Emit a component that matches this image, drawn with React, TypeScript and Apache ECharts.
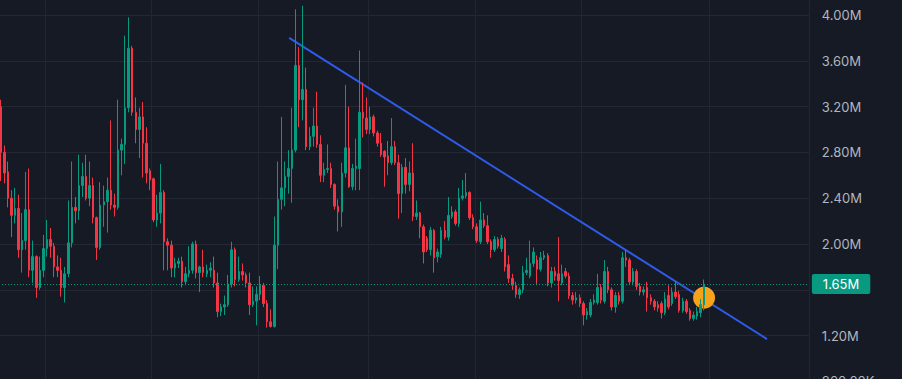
import React, { useEffect, useRef } from "react";
import * as echarts from "echarts";

// Each candle: [open, close, low, high] in millions
type Candle = [number, number, number, number];

const waveA: Candle[] = [
  [3.2, 2.8, 2.55, 3.26], [2.8, 2.62, 2.53, 2.86], [2.63, 2.4, 2.32, 2.72], [2.4, 2.25, 2.06, 2.47],
  [2.25, 2.31, 2.18, 2.49], [2.31, 1.95, 1.88, 2.43], [1.95, 2.03, 1.75, 2.27], [2.03, 2.3, 1.95, 2.63],
  [2.3, 1.77, 1.71, 2.66], [1.77, 1.89, 1.66, 2.03], [1.89, 1.62, 1.53, 1.9], [1.62, 1.77, 1.6, 1.89],
  [1.77, 1.96, 1.71, 2.08], [1.96, 2.04, 1.89, 2.21], [2.04, 1.98, 1.88, 2.14], [1.98, 1.8, 1.71, 2.01],
  [1.8, 1.77, 1.71, 1.9], [1.77, 1.62, 1.54, 1.88], [1.62, 1.74, 1.49, 1.8], [1.74, 2.01, 1.71, 2.38],
  [2.01, 2.32, 1.97, 2.72], [2.32, 2.29, 2.18, 2.41], [2.29, 2.51, 2.21, 2.78], [2.51, 2.59, 2.41, 2.71],
  [2.59, 2.4, 2.38, 2.78], [2.4, 2.51, 2.33, 2.72], [2.51, 2.23, 2.18, 2.58], [2.23, 1.97, 1.86, 2.24],
  [1.97, 2.34, 1.95, 2.54], [2.34, 2.37, 2.15, 2.51], [2.37, 2.47, 2.1, 2.58], [2.47, 2.34, 2.3, 3.08],
  [2.34, 2.32, 2.24, 2.44], [2.32, 2.82, 2.3, 3.26],
];

const waveB: Candle[] = [
  [2.82, 2.87, 2.6, 2.92], [2.87, 3.19, 2.7, 3.82], [3.19, 3.71, 3.15, 3.98], [3.71, 3.15, 3.12, 3.73],
  [3.15, 3.0, 2.88, 3.28], [3.0, 3.11, 2.75, 3.19], [3.11, 2.88, 2.58, 3.24], [2.88, 2.62, 2.53, 3.02],
  [2.64, 2.56, 2.47, 2.66], [2.57, 2.21, 2.19, 2.58], [2.21, 2.27, 2.15, 2.43], [2.27, 2.45, 2.18, 2.7],
  [2.45, 2.02, 1.77, 2.47], [2.02, 1.99, 1.77, 2.05], [1.99, 1.79, 1.71, 2.03], [1.79, 1.83, 1.71, 1.88],
  [1.83, 1.85, 1.79, 1.88], [1.85, 1.67, 1.62, 1.89], [1.67, 1.74, 1.64, 1.8], [1.74, 1.77, 1.71, 1.98],
  [1.77, 2.0, 1.74, 2.02], [2.0, 1.75, 1.7, 2.03], [1.75, 1.8, 1.58, 1.81], [1.8, 1.75, 1.71, 1.95],
  [1.74, 1.77, 1.71, 1.82], [1.77, 1.79, 1.71, 1.84], [1.77, 1.66, 1.62, 1.89], [1.66, 1.41, 1.36, 1.75],
  [1.41, 1.45, 1.37, 1.48], [1.45, 1.47, 1.38, 1.55], [1.47, 1.65, 1.45, 1.73], [1.65, 1.95, 1.62, 2.02],
  [1.95, 1.69, 1.63, 1.97], [1.69, 1.76, 1.67, 1.89], [1.76, 1.73, 1.68, 1.83], [1.73, 1.66, 1.62, 1.75],
  [1.66, 1.47, 1.38, 1.75], [1.47, 1.5, 1.45, 1.63], [1.5, 1.56, 1.29, 1.63], [1.56, 1.64, 1.51, 1.72],
  [1.64, 1.48, 1.45, 1.66], [1.48, 1.32, 1.27, 1.51], [1.32, 1.28, 1.27, 1.43],
];

const waveC: Candle[] = [
  [1.28, 1.99, 1.27, 2.24], [1.99, 2.39, 1.78, 2.72], [2.39, 2.49, 2.3, 3.11], [2.49, 2.59, 2.33, 2.72],
  [2.59, 2.66, 2.44, 2.82], [2.66, 2.82, 2.36, 3.19], [2.82, 3.56, 2.8, 4.05], [3.56, 3.26, 3.02, 3.72],
  [3.26, 3.35, 3.08, 4.08], [3.35, 2.85, 2.82, 3.54], [2.85, 2.94, 2.82, 3.02], [2.94, 3.03, 2.85, 3.19],
  [3.03, 2.87, 2.84, 3.33], [2.87, 2.6, 2.54, 2.95], [2.6, 2.65, 2.54, 2.71], [2.65, 2.66, 2.62, 2.87],
  [2.66, 2.52, 2.49, 2.71], [2.52, 2.33, 2.3, 2.53], [2.33, 2.28, 2.11, 2.39], [2.28, 2.62, 2.15, 2.71],
  [2.62, 2.84, 2.58, 3.39], [2.84, 2.5, 2.49, 3.2], [2.5, 2.66, 2.47, 2.7], [2.66, 2.68, 2.47, 2.92],
  [2.66, 3.15, 2.47, 3.69], [3.15, 3.1, 2.93, 3.41], [3.1, 3.0, 2.96, 3.28], [3.0, 3.11, 2.96, 3.2],
  [3.11, 2.97, 2.94, 3.13], [2.97, 2.88, 2.85, 2.99], [2.88, 2.78, 2.76, 2.97], [2.81, 2.76, 2.5, 2.82],
  [2.77, 2.71, 2.6, 2.9], [2.71, 2.85, 2.69, 3.1], [2.85, 2.71, 2.69, 2.9], [2.71, 2.44, 2.22, 2.78],
  [2.44, 2.67, 2.27, 2.7], [2.67, 2.52, 2.44, 2.75], [2.52, 2.62, 2.46, 2.72], [2.62, 2.24, 2.2, 2.88],
  [2.24, 2.27, 2.21, 2.38], [2.27, 2.15, 2.05, 2.28], [2.15, 1.93, 1.83, 2.17],
];

const waveD: Candle[] = [
  [2.05, 1.95, 1.93, 2.07], [1.95, 2.12, 1.9, 2.15], [2.12, 1.88, 1.75, 2.13], [1.89, 1.93, 1.84, 1.96],
  [1.91, 2.12, 1.88, 2.15], [2.12, 2.06, 2.04, 2.2], [2.06, 2.25, 2.03, 2.41], [2.24, 2.28, 2.22, 2.33],
  [2.28, 2.18, 2.16, 2.3], [2.18, 2.4, 2.15, 2.49], [2.4, 2.42, 2.38, 2.56], [2.42, 2.45, 2.4, 2.62],
  [2.45, 2.23, 2.21, 2.46], [2.23, 2.15, 2.13, 2.26], [2.15, 2.03, 2.01, 2.18], [2.02, 2.21, 2.0, 2.37],
  [2.21, 2.16, 2.14, 2.27], [2.16, 2.02, 2.0, 2.25], [2.02, 1.95, 1.88, 2.04], [1.95, 2.04, 1.93, 2.07],
  [2.04, 1.98, 1.96, 2.06], [1.96, 2.05, 1.93, 2.08], [2.04, 1.8, 1.76, 2.06], [1.82, 1.7, 1.66, 1.9],
  [1.7, 1.64, 1.6, 1.74], [1.64, 1.56, 1.53, 1.67], [1.56, 1.6, 1.52, 1.62], [1.6, 1.75, 1.57, 1.81],
  [1.75, 1.77, 1.73, 1.88], [1.72, 1.83, 1.7, 2.03], [1.83, 1.93, 1.8, 1.97], [1.86, 1.78, 1.64, 1.9],
  [1.78, 1.88, 1.76, 1.93], [1.88, 1.9, 1.86, 1.94], [1.9, 1.66, 1.63, 1.92], [1.66, 1.76, 1.62, 1.8],
  [1.76, 1.72, 1.68, 1.8], [1.74, 1.68, 1.5, 2.06], [1.66, 1.74, 1.64, 1.82], [1.76, 1.72, 1.7, 1.79],
  [1.72, 1.55, 1.52, 1.75], [1.55, 1.51, 1.47, 1.58], [1.51, 1.53, 1.48, 1.58], [1.53, 1.48, 1.45, 1.56],
  [1.48, 1.38, 1.29, 1.5], [1.38, 1.41, 1.34, 1.44], [1.38, 1.49, 1.36, 1.52], [1.49, 1.51, 1.47, 1.56],
  [1.49, 1.62, 1.47, 1.74], [1.62, 1.51, 1.48, 1.65], [1.5, 1.76, 1.48, 1.86],
];

const waveE: Candle[] = [
  [1.76, 1.6, 1.57, 1.8], [1.6, 1.45, 1.42, 1.62], [1.45, 1.55, 1.4, 1.58], [1.55, 1.5, 1.47, 1.58],
  [1.5, 1.88, 1.48, 1.93], [1.88, 1.86, 1.8, 1.95], [1.86, 1.67, 1.64, 1.88], [1.67, 1.76, 1.64, 1.79],
  [1.76, 1.63, 1.6, 1.78], [1.63, 1.58, 1.55, 1.66], [1.58, 1.6, 1.55, 1.63], [1.62, 1.53, 1.41, 1.67],
  [1.53, 1.5, 1.47, 1.56], [1.5, 1.45, 1.42, 1.52], [1.47, 1.44, 1.41, 1.5], [1.48, 1.4, 1.35, 1.5],
  [1.4, 1.52, 1.38, 1.58], [1.55, 1.45, 1.43, 1.64], [1.48, 1.58, 1.46, 1.62], [1.58, 1.54, 1.52, 1.67],
  [1.56, 1.42, 1.4, 1.59], [1.42, 1.5, 1.4, 1.53], [1.5, 1.41, 1.39, 1.52], [1.42, 1.35, 1.33, 1.44],
  [1.35, 1.38, 1.33, 1.41], [1.37, 1.41, 1.34, 1.45], [1.4, 1.47, 1.36, 1.52], [1.47, 1.65, 1.42, 1.69],
];

const candles: Candle[] = [...waveA, ...waveB, ...waveC, ...waveD, ...waveE];
const emptySlots = 29;
const categories: string[] = [
  ...candles.map((_, i) => `D${i + 1}`),
  ...Array.from({ length: emptySlots }, (_, i) => `F${i + 1}`),
];
// category boundaries where vertical grid lines fall
const timeGridIndices = [13, 43, 73, 104, 134, 164, 200];

const lastPrice = 1.65;
const lastPriceLabel = "1.65M";
// trend line endpoints: [candle index, value in M]
const trendLine: [number, number][] = [
  [81.2, 3.8],
  [215.7, 1.17],
];
const signalPoint: [number, number][] = [[198, 1.53]];

const yMin = 0.8;
const yMax = 4.131;
const yStep = 0.4;

const UP = "#089981";
const DOWN = "#f23645";

function fmt(v: number): string {
  if (Math.abs(v - lastPrice) < 0.1) return "";
  if (v < 1) return (v * 1000).toFixed(2) + "K";
  return v.toFixed(2) + "M";
}

export default function App() {
  const ref = useRef<HTMLDivElement>(null);
  useEffect(() => {
    if (!ref.current) return;
    const chart = echarts.init(ref.current, undefined, { renderer: "svg" });
    const n = categories.length;
    const slot = 3.552;
    chart.setOption({
      animation: false,
      backgroundColor: "#161a25",
      grid: {
        left: -1,
        top: 0,
        width: n * slot,
        height: 381.4,
        containLabel: false,
        outerBoundsMode: "none",
      },
      xAxis: [
        {
          type: "category",
          data: categories,
          boundaryGap: true,
          axisLine: { show: false },
          axisTick: { show: false },
          axisLabel: { show: false },
          splitLine: {
            show: true,
            interval: (index: number) => timeGridIndices.indexOf(index) >= 0,
            lineStyle: { color: "#222633", width: 1 },
          },
        },
        {
          type: "value",
          min: -0.5,
          max: n - 0.5,
          show: false,
          splitLine: { show: false },
        },
      ],
      yAxis: {
        type: "value",
        position: "right",
        min: yMin,
        max: yMax,
        interval: yStep,
        axisLine: { show: false },
        axisTick: { show: false },
        axisLabel: {
          showMaxLabel: false,
          color: "#b2b5be",
          fontFamily: "Inter, Roboto, sans-serif",
          fontSize: 13,
          margin: 13,
          formatter: fmt,
        },
        splitLine: {
          show: true,
          showMaxLine: false,
          lineStyle: { color: "#242834", width: 1 },
        },
      },
      series: [
        {
          type: "line",
          xAxisIndex: 1,
          data: trendLine,
          showSymbol: false,
          symbol: "none",
          z: 2,
          lineStyle: { color: "#2e5bea", width: 2 },
          silent: true,
        },
        {
          type: "scatter",
          xAxisIndex: 1,
          data: signalPoint,
          symbol: "circle",
          symbolSize: 22,
          z: 3,
          itemStyle: { color: "#f7a21b", opacity: 1 },
          silent: true,
        },
        {
          type: "candlestick",
          xAxisIndex: 0,
          data: candles,
          barWidth: 2,
          z: 4,
          itemStyle: {
            color: UP,
            color0: DOWN,
            borderColor: UP,
            borderColor0: DOWN,
            borderWidth: 1,
          },
          markLine: {
            silent: true,
            symbol: ["none", "none"],
            data: [{ yAxis: lastPrice }],
            lineStyle: { color: UP, type: [1, 2], width: 1 },
            label: {
              show: true,
              position: "end",
              distance: 3,
              formatter: lastPriceLabel,
              backgroundColor: UP,
              color: "#ffffff",
              padding: [4, 11, 3, 11],
              borderRadius: 2,
              fontFamily: "Inter, Roboto, sans-serif",
              fontSize: 13,
            },
            emphasis: { disabled: true },
          },
        },
      ],
    });
    return () => chart.dispose();
  }, []);
  return (
    <div
      ref={ref}
      style={{ position: "fixed", left: 0, top: 0, width: 902, height: 379, background: "#161a25" }}
    />
  );
}
